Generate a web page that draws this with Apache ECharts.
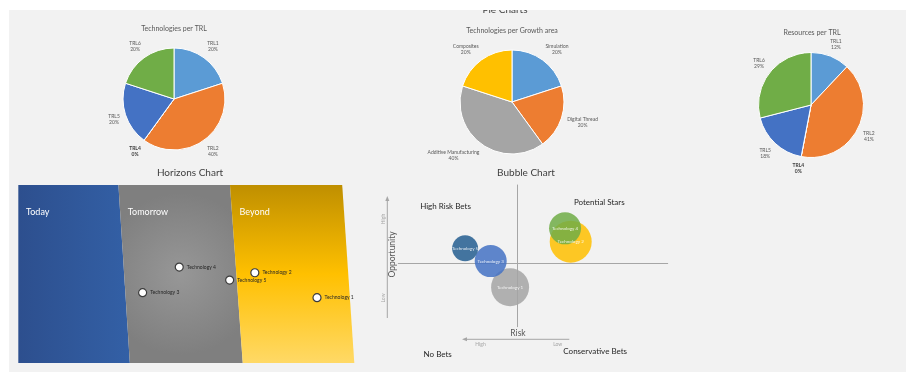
<!DOCTYPE html>
<html>
<head>
<meta charset="utf-8">
<script src="https://cdn.jsdelivr.net/npm/echarts@6/dist/echarts.min.js"></script>
<style>
  html, body { margin: 0; padding: 0; background: #ffffff; }
  #chart { width: 906px; height: 372px; }
</style>
</head>
<body>
<div id="chart"></div>
<script>
// ---- Pie chart data ----
const trlCategories = ['TRL1', 'TRL2', 'TRL4', 'TRL5', 'TRL6'];
const techPerTrl = [1, 2, 0, 1, 1];
const resourcesPerTrl = [12, 41, 0, 18, 29];
const growthAreas = ['Simulation', 'Digital Thread', 'Additive Manufacturing', 'Composites'];
const techPerGrowth = [1, 1, 2, 1];

// ---- Horizons chart data (0-100 on both axes) ----
const horizonBands = ['Today', 'Tomorrow', 'Beyond'];
const bandEdgesTop = [0, 29.8, 63.0, 96.4];
const bandEdgesBottom = [0, 33.2, 66.8, 100];
const technologies = ['Technology 1', 'Technology 2', 'Technology 3', 'Technology 4', 'Technology 5'];
const horizonX = [88.9, 70.4, 37.0, 47.9, 62.9];
const horizonY = [36.7, 50.7, 39.5, 53.9, 46.6];

// ---- Bubble chart data ----
const riskScore = [-0.25, 2.0, -0.97, 1.79, -1.92];
const opportunityScore = [-1.72, 1.50, 0.13, 2.44, 1.03];
const bubbleSize = [38, 42, 32, 32, 26];

const FONT = 'Lato';
const trlColors = ['#5b9bd5', '#ed7d31', '#a5a5a5', '#4472c4', '#70ad47'];
const growthColors = ['#5b9bd5', '#ed7d31', '#a5a5a5', '#ffc000'];
const bubbleColors = ['#a5a5a5', '#ffc000', '#4472c4', '#70ad47', '#255e91'];
const bandFills = [
  { type: 'linear', x: 0, y: 0, x2: 1, y2: 0,
    colorStops: [{ offset: 0, color: '#2d4f8e' }, { offset: 1, color: '#3360a6' }] },
  { type: 'radial', x: 0.5, y: 0.5, r: 0.65,
    colorStops: [{ offset: 0, color: '#979797' }, { offset: 1, color: '#7f7f7f' }] },
  { type: 'linear', x: 0, y: 0, x2: 0, y2: 1,
    colorStops: [{ offset: 0, color: '#bf8f00' }, { offset: 0.5, color: '#ffc000' }, { offset: 1, color: '#ffd966' }] }
];

// Places each pie label just outside its slice, centred on the slice's mid angle.
function pieLabelLayout(values, center, radius, gap) {
  const total = values.reduce((a, b) => a + b, 0);
  const mids = [];
  let acc = 0;
  values.forEach(v => { mids.push((acc + v / 2) / total * Math.PI * 2); acc += v; });
  const clamp = t => Math.max(-1, Math.min(1, t * 1.6));
  return function (params) {
    const a = mids[params.dataIndex];
    const dx = Math.sin(a), dy = -Math.cos(a);
    const w = params.labelRect.width, h = params.labelRect.height;
    const ax = center[0] + dx * (radius + gap);
    const ay = center[1] + dy * (radius + gap);
    return { x: ax + clamp(dx) * w / 2, y: ay + clamp(dy) * h / 2, align: 'center', verticalAlign: 'middle' };
  };
}

function pieSeries(names, values, colors, center, radius) {
  return {
    type: 'pie', center: center, radius: radius, startAngle: 90, clockwise: true,
    avoidLabelOverlap: false, silent: true, animation: false,
    data: names.map((n, i) => ({
      name: n, value: values[i], itemStyle: { color: colors[i] },
      label: values[i] === 0 ? { fontWeight: 'bold', color: '#404040' } : {}
    })),
    itemStyle: { borderColor: '#ffffff', borderWidth: 1 },
    label: {
      show: true, position: 'outside', fontFamily: FONT, fontSize: 5, lineHeight: 6, color: '#595959',
      formatter: p => p.name + '\n' + Math.round(p.percent) + '%'
    },
    labelLine: { show: false },
    labelLayout: pieLabelLayout(values, center, radius, 6)
  };
}

function titleItem(text, x, y, size, color) {
  return { text: text, left: x, top: y, textAlign: 'center', padding: 0,
    textStyle: { fontFamily: FONT, fontSize: size, fontWeight: 'normal', color: color } };
}

function txt(text, x, y, size, color, rot) {
  return { type: 'text', x: x, y: y, rotation: rot || 0, silent: true,
    style: { text: text, font: size + 'px ' + FONT, fill: color, align: 'center', verticalAlign: 'middle' } };
}

const chart = echarts.init(document.getElementById('chart'), null, { renderer: 'canvas' });
chart.setOption({
  animation: false,
  backgroundColor: '#f2f2f2',
  title: [
    titleItem('Pie Charts', 505, 5, 10, '#404040'),
    titleItem('Technologies per TRL', 174, 25, 7, '#595959'),
    titleItem('Technologies per Growth area', 512, 27, 7, '#595959'),
    titleItem('Resources per TRL', 812, 29, 7, '#595959'),
    titleItem('Horizons Chart', 190, 168, 10, '#404040'),
    titleItem('Bubble Chart', 526, 168, 10, '#404040')
  ],
  grid: [
    { left: 18.3, top: 185, width: 336, height: 178 },
    { left: 398.3, top: 185, width: 269.4, height: 141.7 }
  ],
  xAxis: [
    { gridIndex: 0, type: 'value', min: 0, max: 100, show: false },
    { gridIndex: 1, type: 'value', min: -4.4, max: 5.6,
      axisLine: { onZero: true, lineStyle: { color: '#a6a6a6', width: 1 } },
      axisTick: { show: false }, axisLabel: { show: false }, splitLine: { show: false } }
  ],
  yAxis: [
    { gridIndex: 0, type: 'value', min: 0, max: 100, show: false },
    { gridIndex: 1, type: 'value', min: -4.5, max: 5.5,
      axisLine: { onZero: true, lineStyle: { color: '#a6a6a6', width: 1 } },
      axisTick: { show: false }, axisLabel: { show: false }, splitLine: { show: false } }
  ],
  series: [
    pieSeries(trlCategories, techPerTrl, trlColors, [174, 99], 51),
    pieSeries(growthAreas, techPerGrowth, growthColors, [512, 102], 52),
    pieSeries(trlCategories, resourcesPerTrl, trlColors, [811, 105], 52.5),
    {
      type: 'custom', xAxisIndex: 0, yAxisIndex: 0, silent: true, z: 1,
      data: horizonBands.map((name, i) => ({
        name: name,
        value: [bandEdgesTop[i], bandEdgesTop[i + 1], bandEdgesBottom[i + 1], bandEdgesBottom[i]]
      })),
      renderItem: function (params, api) {
        const i = params.dataIndex;
        const pts = [
          api.coord([api.value(0), 100]), api.coord([api.value(1), 100]),
          api.coord([api.value(2), 0]), api.coord([api.value(3), 0])
        ];
        const ly = 85;
        const lx = api.value(0) + (api.value(3) - api.value(0)) * (1 - ly / 100) + 2.3;
        const lp = api.coord([lx, ly]);
        return {
          type: 'group',
          children: [
            { type: 'polygon', shape: { points: pts }, style: { fill: bandFills[i] } },
            { type: 'text', x: lp[0], y: lp[1],
              style: { text: horizonBands[i], fill: '#ffffff', font: '9px ' + FONT, align: 'left', verticalAlign: 'middle' } }
          ]
        };
      }
    },
    {
      type: 'scatter', xAxisIndex: 0, yAxisIndex: 0, z: 3, silent: true, symbolSize: 8,
      data: technologies.map((n, i) => ({ name: n, value: [horizonX[i], horizonY[i]] })),
      itemStyle: { color: '#ffffff', borderColor: '#3b3b3b', borderWidth: 1.2, opacity: 1 },
      label: { show: true, position: 'right', distance: 3, formatter: '{b}',
        fontFamily: FONT, fontSize: 5, color: '#262626' }
    },
    {
      type: 'scatter', xAxisIndex: 1, yAxisIndex: 1, z: 3, silent: true,
      data: technologies.map((n, i) => ({
        name: n, value: [riskScore[i], opportunityScore[i], bubbleSize[i]],
        itemStyle: { color: bubbleColors[i] }
      })),
      symbolSize: v => v[2],
      itemStyle: { opacity: 0.85 },
      label: { show: true, position: 'inside', formatter: '{b}',
        fontFamily: FONT, fontSize: 4.5, color: '#ffffff' }
    }
  ],
  graphic: [
    // page margins outside the grey panel
    { type: 'rect', z: 100, silent: true, shape: { x: 0, y: 0, width: 906, height: 10 }, style: { fill: '#ffffff' } },
    { type: 'rect', z: 100, silent: true, shape: { x: 0, y: 0, width: 9, height: 372 }, style: { fill: '#ffffff' } },
    // opportunity arrow
    { type: 'line', silent: true, shape: { x1: 387.3, y1: 318, x2: 387.3, y2: 200 }, style: { stroke: '#a6a6a6', lineWidth: 1 } },
    { type: 'polygon', silent: true, shape: { points: [[387.3, 196], [385.3, 201], [389.3, 201]] }, style: { fill: '#a6a6a6' } },
    // risk arrow
    { type: 'line', silent: true, shape: { x1: 569.3, y1: 339.3, x2: 466, y2: 339.3 }, style: { stroke: '#a6a6a6', lineWidth: 1 } },
    { type: 'polygon', silent: true, shape: { points: [[462, 339.3], [467, 337.3], [467, 341.3]] }, style: { fill: '#a6a6a6' } },
    txt('High', 383, 219, 5, '#a6a6a6', Math.PI / 2),
    txt('Low', 383, 298, 5, '#a6a6a6', Math.PI / 2),
    txt('Opportunity', 392.3, 254.5, 8.5, '#595959', Math.PI / 2),
    txt('Risk', 518, 333, 8.5, '#595959'),
    txt('High', 480.5, 344, 5, '#a6a6a6'),
    txt('Low', 557.7, 344, 5, '#a6a6a6'),
    txt('High Risk Bets', 445.5, 206.3, 8, '#262626'),
    txt('Potential Stars', 599.3, 202.7, 8, '#262626'),
    txt('No Bets', 437.7, 354, 8, '#262626'),
    txt('Conservative Bets', 595.2, 351.7, 8, '#262626')
  ]
});
</script>
</body>
</html>
